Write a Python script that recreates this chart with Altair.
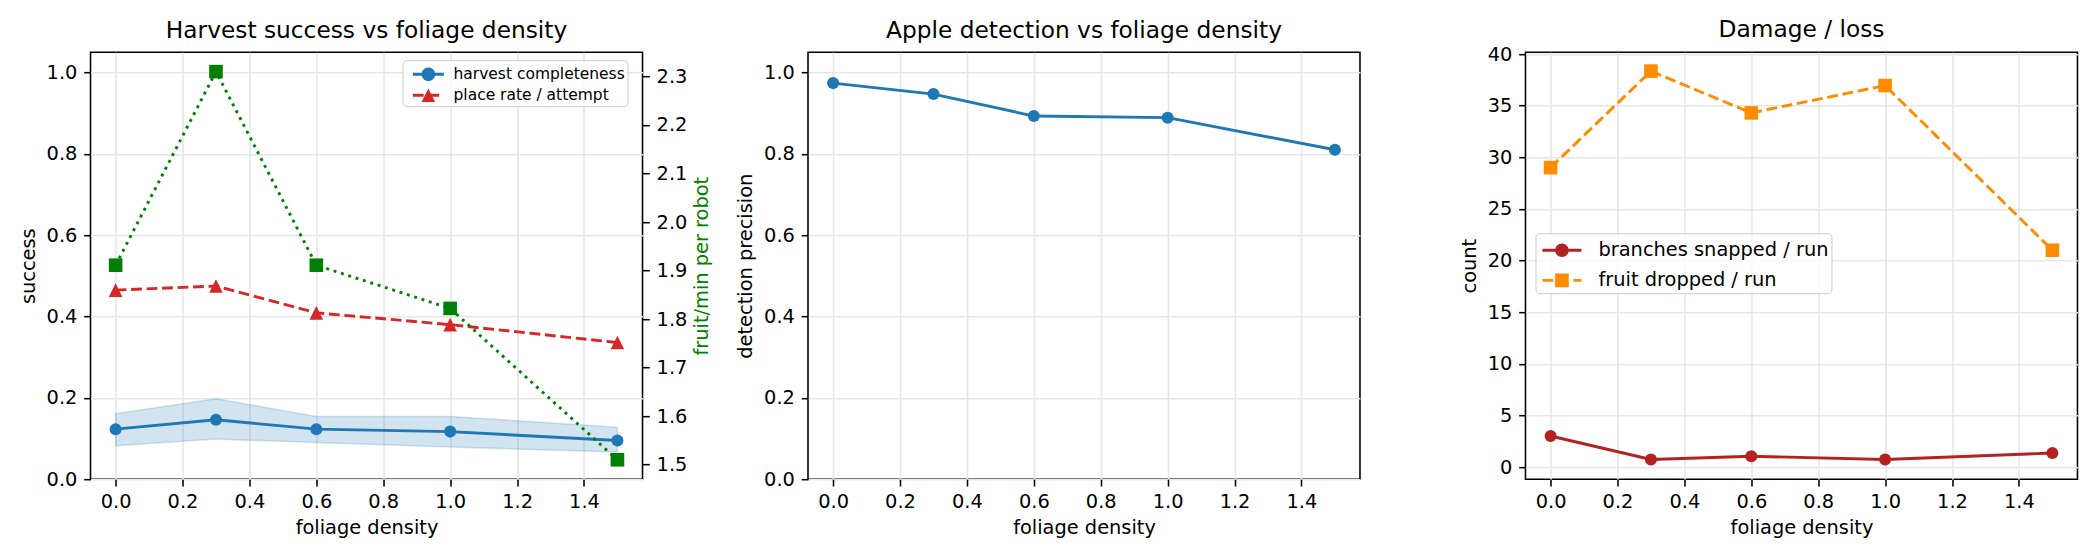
import altair as alt
import pandas as pd

FONT = "DejaVu Sans"

# ---------------- data ----------------
density = [0.0, 0.3, 0.6, 1.0, 1.5]
harvest_completeness = [0.123, 0.146, 0.123, 0.117, 0.095]
harvest_lo = [0.082, 0.099, 0.090, 0.079, 0.067]
harvest_hi = [0.161, 0.198, 0.154, 0.154, 0.128]
place_rate = [0.465, 0.475, 0.409, 0.380, 0.336]
fruit_per_min = [1.911, 2.310, 1.911, 1.822, 1.510]
detection_precision = [0.974, 0.947, 0.893, 0.889, 0.810]
branches_snapped = [3.0, 0.73, 1.04, 0.73, 1.35]
fruit_dropped = [29.0, 38.35, 34.3, 36.95, 21.0]

x_ticks = [0.0, 0.2, 0.4, 0.6, 0.8, 1.0, 1.2, 1.4]
success_ticks = [0.0, 0.2, 0.4, 0.6, 0.8, 1.0]
rate_ticks = [1.5, 1.6, 1.7, 1.8, 1.9, 2.0, 2.1, 2.2, 2.3]
count_ticks = [0, 5, 10, 15, 20, 25, 30, 35, 40]

legend1_labels = ["harvest completeness", "place rate / attempt"]
legend3_labels = ["branches snapped / run", "fruit dropped / run"]

BLUE, RED, GREEN = "#1f77b4", "#d62728", "#008000"
FIREBRICK, ORANGE = "#b22222", "#ff8c00"

LW = 2.9
DASH = [10.8, 4.7]
DOT = [2.9, 4.8]
PT = 145
SQ = 185
TRI = "M0,-1L1,1L-1,1Z"

# ---------------- shared styling ----------------
def axis_common(**kw):
    base = dict(
        labelFont=FONT, titleFont=FONT, labelFontSize=19.4, titleFontSize=19.4,
        titleFontWeight="normal", labelColor="black", titleColor="black",
        tickColor="black", tickWidth=1.56, tickSize=6.8, labelPadding=6.8,
        domain=False, gridColor="#e6e6e6", gridWidth=1.56, labelFlush=False,
        labelOverlap=False,
    )
    base.update(kw)
    return alt.Axis(**base)

x_scale = alt.Scale(domain=[-0.075, 1.575], nice=False, zero=False)
x_axis = axis_common(values=x_ticks, format=".1f", title="foliage density",
                     grid=True, titlePadding=7)
X = alt.X("d:Q", scale=x_scale, axis=x_axis)

def title(t, off=-9.3):
    return alt.TitleParams(t, font=FONT, fontSize=23.3, fontWeight="normal",
                           color="black", anchor="middle", baseline="alphabetic",
                           offset=off, frame="group")

def legend(lx, ly, fs, sym, pad, off, rowpad):
    return alt.Legend(orient="none", legendX=lx, legendY=ly, title=None,
                      labelFont=FONT, labelFontSize=fs, labelColor="black",
                      labelLimit=500, symbolSize=sym, symbolStrokeWidth=0,
                      symbolOpacity=1, padding=pad, rowPadding=rowpad,
                      labelOffset=off, fillColor="rgba(255,255,255,0.8)",
                      strokeColor="#cccccc", cornerRadius=4)

# legend handle glyphs (line segment + marker), unit = sqrt(symbolSize)/2
H_CIRCLE = ("M-0.313,-0.124H2.348V0.124H-0.313Z "
            "M0.433,0A0.584,0.584 0 1,1 1.601,0A0.584,0.584 0 1,1 0.433,0Z")
H_TRI_DASH = ("M-0.313,-0.124H0.614V0.124H-0.313Z "
              "M1.015,-0.124H1.942V0.124H1.015Z "
              "M1.017,-0.584L1.601,0.584L0.433,0.584Z")
H_CIRCLE3 = ("M-0.69,-0.1H1.993V0.1H-0.69Z "
             "M0.183,0A0.469,0.469 0 1,1 1.121,0A0.469,0.469 0 1,1 0.183,0Z")
H_SQ_DASH3 = ("M-0.69,-0.1H0.055V0.1H-0.69Z "
              "M0.377,-0.1H1.122V0.1H0.377Z "
              "M1.444,-0.1H1.993V0.1H1.444Z "
              "M0.183,-0.469H1.121V0.469H0.183Z")

W, H = 552, 427

# ---------------- panel 1 ----------------
df_h = pd.DataFrame({"d": density, "v": harvest_completeness,
                     "lo": harvest_lo, "hi": harvest_hi})
df_p = pd.DataFrame({"d": density, "v": place_rate})
df_g = pd.DataFrame({"d": density, "v": fruit_per_min})
df_leg1 = pd.DataFrame({"series": legend1_labels})

y1_scale = alt.Scale(domain=[0, 1.05], nice=False, zero=False)
y1_axis = axis_common(values=success_ticks, format=".1f", title="success",
                      grid=True, titlePadding=8)
Y1 = alt.Y("v:Q", scale=y1_scale, axis=y1_axis)

band = alt.Chart(df_h).mark_area(
    color=BLUE, fillOpacity=0.2, stroke=BLUE, strokeOpacity=0.2, strokeWidth=1.5
).encode(x=X, y=alt.Y("lo:Q", scale=y1_scale, axis=y1_axis), y2="hi:Q")
h_line = alt.Chart(df_h).mark_line(color=BLUE, strokeWidth=LW).encode(x=X, y=Y1)
h_pts = alt.Chart(df_h).mark_point(filled=True, color=BLUE, opacity=1, size=PT,
                                   shape="circle", strokeWidth=0).encode(x=X, y=Y1)
p_line = alt.Chart(df_p).mark_line(color=RED, strokeWidth=LW, strokeDash=DASH).encode(x=X, y=Y1)
p_pts = alt.Chart(df_p).mark_point(filled=True, color=RED, opacity=1, size=SQ,
                                   shape=TRI, strokeWidth=0).encode(x=X, y=Y1)
leg1 = legend(312, 8, 15.5, 543, 2, 25, 0)
leg1_layer = alt.Chart(df_leg1).mark_point(filled=True, opacity=1, strokeWidth=0).encode(
    fill=alt.Fill("series:N", scale=alt.Scale(domain=legend1_labels, range=[BLUE, RED]), legend=leg1),
    shape=alt.Shape("series:N", scale=alt.Scale(domain=legend1_labels, range=[H_CIRCLE, H_TRI_DASH]), legend=leg1),
).transform_filter("false")

left1 = alt.layer(band, h_line, h_pts, p_line, p_pts, leg1_layer)

y2_scale = alt.Scale(domain=[1.47, 2.35], nice=False, zero=False)
y2_axis = axis_common(orient="right", values=rate_ticks, format=".1f",
                      title="fruit/min per robot", titleColor=GREEN, grid=False,
                      titleX=59, titleY=H / 2, titleAngle=270, titleAlign="center",
                      titleBaseline="middle")
Y2 = alt.Y("v:Q", scale=y2_scale, axis=y2_axis)
g_line = alt.Chart(df_g).mark_line(color=GREEN, strokeWidth=LW, strokeDash=DOT).encode(x=X, y=Y2)
g_pts = alt.Chart(df_g).mark_point(filled=True, color=GREEN, opacity=1, size=SQ,
                                   shape="square", strokeWidth=0).encode(x=X, y=Y2)
right1 = alt.layer(g_line, g_pts)

panel1 = alt.layer(left1, right1).resolve_scale(y="independent").properties(
    width=W, height=H, title=title("Harvest success vs foliage density"))

# ---------------- panel 2 ----------------
df_d = pd.DataFrame({"d": density, "v": detection_precision})
y_det_axis = axis_common(values=success_ticks, format=".1f", title="detection precision",
                         grid=True, titlePadding=8)
Yd = alt.Y("v:Q", scale=alt.Scale(domain=[0, 1.05], nice=False, zero=False), axis=y_det_axis)
d_line = alt.Chart(df_d).mark_line(color=BLUE, strokeWidth=LW).encode(x=X, y=Yd)
d_pts = alt.Chart(df_d).mark_point(filled=True, color=BLUE, opacity=1, size=PT,
                                   shape="circle", strokeWidth=0).encode(x=X, y=Yd)
panel2 = alt.layer(d_line, d_pts).properties(
    width=W, height=H, title=title("Apple detection vs foliage density"))

# ---------------- panel 3 ----------------
df_b = pd.DataFrame({"d": density, "v": branches_snapped})
df_f = pd.DataFrame({"d": density, "v": fruit_dropped})
df_leg3 = pd.DataFrame({"series": legend3_labels})
y3_axis = axis_common(values=count_ticks, format="d", title="count", grid=True, titlePadding=8)
Y3 = alt.Y("v:Q", scale=alt.Scale(domain=[-1.18, 40.18], nice=False, zero=False), axis=y3_axis)
b_line = alt.Chart(df_b).mark_line(color=FIREBRICK, strokeWidth=LW).encode(x=X, y=Y3)
b_pts = alt.Chart(df_b).mark_point(filled=True, color=FIREBRICK, opacity=1, size=PT,
                                   shape="circle", strokeWidth=0).encode(x=X, y=Y3)
f_line = alt.Chart(df_f).mark_line(color=ORANGE, strokeWidth=LW, strokeDash=DASH).encode(x=X, y=Y3)
f_pts = alt.Chart(df_f).mark_point(filled=True, color=ORANGE, opacity=1, size=SQ,
                                   shape="square", strokeWidth=0).encode(x=X, y=Y3)
leg3 = legend(10, 181, 19.4, 841, 2.5, 31.5, 6.2)
leg3_layer = alt.Chart(df_leg3).mark_point(filled=True, opacity=1, strokeWidth=0).encode(
    fill=alt.Fill("series:N", scale=alt.Scale(domain=legend3_labels, range=[FIREBRICK, ORANGE]), legend=leg3),
    shape=alt.Shape("series:N", scale=alt.Scale(domain=legend3_labels, range=[H_CIRCLE3, H_SQ_DASH3]), legend=leg3),
).transform_filter("false")
panel3 = alt.layer(b_line, b_pts, f_line, f_pts, leg3_layer).properties(
    width=W, height=H, title=title("Damage / loss", off=-16))

chart = alt.hconcat(panel1, panel2, panel3, spacing=165.5, bounds="flush").resolve_scale(
    fill="independent", shape="independent"
).resolve_legend(fill="independent", shape="independent").properties(
    padding={"left": 16.5, "top": 16.2, "right": 5, "bottom": 5},
    background="white",
).configure(font=FONT).configure_view(stroke="black", strokeWidth=1.56)

chart.save("out.html", embed_options={"renderer": "svg", "actions": False})
